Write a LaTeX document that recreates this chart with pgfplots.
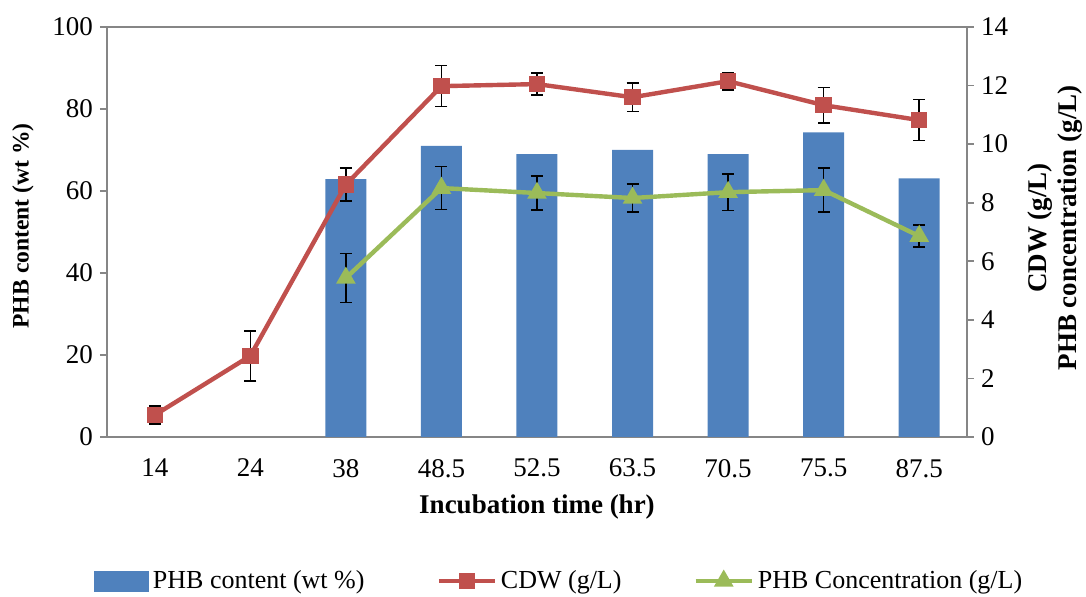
\documentclass[border=0pt]{standalone}
\usepackage{fontspec}
\setmainfont{Liberation Serif}
\usepackage{pgfplots}
\pgfplotsset{compat=1.18}
\definecolor{barblue}{HTML}{4F81BD}
\definecolor{cdwred}{HTML}{C0504D}
\definecolor{phbgreen}{HTML}{9BBB59}
\definecolor{axgray}{HTML}{868686}
\begin{document}
\begin{tikzpicture}
\useasboundingbox (-53.5pt,-80pt) rectangle (489.5pt,218.5pt);
\begin{axis}[
  at={(0,0)}, anchor=south west,
  scale only axis, width=430pt, height=205pt,
  xmin=-0.5, xmax=8.5, ymin=0, ymax=100,
  xtick={0,...,8},
  xticklabels={14,24,38,48.5,52.5,63.5,70.5,75.5,87.5},
  ytick={0,20,...,100},
  ytick pos=left, xtick pos=bottom,
  tick align=outside, major tick length=3.5pt,
  xtick style={draw=none},
  ytick style={axgray, line width=0.8pt},
  axis line style={axgray, line width=0.8pt},
  ticklabel style={font=\fontsize{13.5}{15}\selectfont},
  xticklabel style={yshift=-4pt},
  /pgf/number format/assume math mode=true,
  xlabel={Incubation time (hr)},
  ylabel={PHB content (wt \%)},
  label style={font=\fontsize{13.5}{16}\selectfont\bfseries},
  xlabel style={at={(axis description cs:0.5,-0.171)}, anchor=center},
  ylabel style={at={(axis description cs:-0.0977,0.515)}, anchor=center, font=\fontsize{11.8}{13}\selectfont\bfseries},
  ybar, bar width=20.5pt,
]
\addplot[fill=barblue, draw=none] coordinates {(2,62.9)(3,71)(4,69)(5,70)(6,69)(7,74.3)(8,63.1)};
\end{axis}
\begin{axis}[
  at={(0,0)}, anchor=south west,
  scale only axis, width=430pt, height=205pt,
  xmin=-0.5, xmax=8.5, ymin=0, ymax=14,
  ytick={0,2,...,14},
  axis x line=none, axis y line*=right,
  tick align=outside, major tick length=3.5pt,
  ytick style={axgray, line width=0.8pt},
  axis line style={axgray, line width=0.8pt},
  ticklabel style={font=\fontsize{13.5}{15}\selectfont},
  /pgf/number format/assume math mode=true,
  ylabel={CDW (g/L)\\PHB concentration (g/L)},
  ylabel style={font=\fontsize{13.5}{15}\selectfont\bfseries, align=center,
    at={(axis description cs:1.1023,0.51)}, anchor=center},
  legend style={at={(axis description cs:0.527,-0.351)}, anchor=center,
    draw=none, fill=none, legend columns=3,
    font=\fontsize{13}{15}\selectfont,
    /tikz/every even column/.append style={column sep=34pt}},
  legend cell align=left,
  legend image code/.code={\draw[mark repeat=2,mark phase=2,#1] plot coordinates {(0pt,0pt)(14pt,0pt)(28pt,0pt)};},
]
\addlegendimage{legend image code/.code={\fill[barblue] (0pt,-5pt) rectangle (27pt,5pt);}}
\addlegendentry{PHB content (wt \%)}
\addplot[cdwred, line width=2.2pt, mark=square*, mark size=3pt,
  error bars/.cd, y dir=both, y explicit,
  error bar style={black, line width=0.8pt},
  error mark options={black, rotate=90, mark size=3pt, line width=0.8pt}]
  coordinates {(0,0.75) +- (0,0.3) (1,2.77) +- (0,0.85) (2,8.62) +- (0,0.56)
  (3,11.98) +- (0,0.7) (4,12.05) +- (0,0.37) (5,11.6) +- (0,0.48)
  (6,12.15) +- (0,0.3) (7,11.33) +- (0,0.6) (8,10.82) +- (0,0.7)};
\addlegendentry{CDW (g/L)}
\addplot[phbgreen, line width=2.2pt, mark=triangle*, mark size=3.5pt,
  error bars/.cd, y dir=both, y explicit,
  error bar style={black, line width=0.8pt},
  error mark options={black, rotate=90, mark size=3pt, line width=0.8pt}]
  coordinates {(2,5.43) +- (0,0.84) (3,8.5) +- (0,0.73) (4,8.33) +- (0,0.58)
  (5,8.16) +- (0,0.48) (6,8.36) +- (0,0.63) (7,8.43) +- (0,0.75) (8,6.86) +- (0,0.37)};
\addlegendentry{PHB Concentration (g/L)}
\end{axis}
\end{tikzpicture}
\end{document}
